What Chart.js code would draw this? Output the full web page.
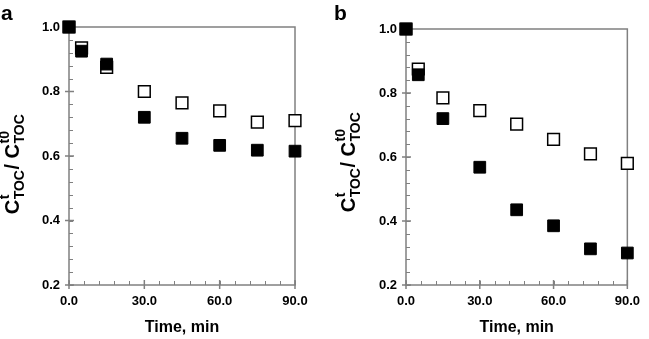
<!DOCTYPE html>
<html><head><meta charset="utf-8">
<script src="https://cdn.jsdelivr.net/npm/chart.js@4"></script>
<style>
html,body{margin:0;padding:0;background:#fff;}
#wrap{position:relative;width:649px;height:339px;}
.pc{position:absolute;top:0;height:339px;}
</style></head>
<body>
<div id="wrap">
<div class="pc" style="left:0;width:324px"><canvas id="ca"></canvas></div>
<div class="pc" style="left:324px;width:325px"><canvas id="cb"></canvas></div>
</div>
<script>
// ---- data ----
const times = [0, 5, 15, 30, 45, 60, 75, 90];
const aOpen   = [1.0, 0.935, 0.875, 0.800, 0.765, 0.740, 0.705, 0.710];
const aFilled = [1.0, 0.925, 0.885, 0.720, 0.655, 0.633, 0.618, 0.615];
const bOpen   = [1.0, 0.875, 0.785, 0.745, 0.703, 0.655, 0.610, 0.580];
const bFilled = [1.0, 0.857, 0.720, 0.568, 0.435, 0.385, 0.313, 0.300];
const xTicks = [0, 30, 60, 90];
const yTicks = [0.2, 0.4, 0.6, 0.8, 1.0];
const xLabel = 'Time, min';
const panelLabels = ['a', 'b'];

const FONT = '"Liberation Sans", Arial, sans-serif';
const AXIS = '#808080';

function pts(ys){ return times.map((t,i)=>({x:t, y:ys[i]})); }

function makeChart(id, openVals, filledVals, label, geo){
  const decor = {
    id:'decor',
    beforeDatasetsDraw(chart){
      const ctx = chart.ctx, a = chart.chartArea;
      const xs = chart.scales.x, ys = chart.scales.y;
      ctx.save();
      ctx.strokeStyle = AXIS; ctx.lineWidth = 1;
      ctx.beginPath();
      for (let v = 0; v <= 90.001; v += 6){
        const px = Math.round(xs.getPixelForValue(v))+0.5;
        ctx.moveTo(px, a.bottom); ctx.lineTo(px, a.bottom-4);
      }
      for (let v = 0.2; v <= 1.0001; v += 0.04){
        const py = Math.round(ys.getPixelForValue(v))+0.5;
        ctx.moveTo(a.left, py); ctx.lineTo(a.left+4, py);
      }
      ctx.stroke();
      ctx.lineWidth = 1.5;
      ctx.beginPath();
      xTicks.forEach(v=>{ const px = xs.getPixelForValue(v); ctx.moveTo(px, a.bottom+4); ctx.lineTo(px, a.bottom-5); });
      yTicks.forEach(v=>{ const py = ys.getPixelForValue(v); ctx.moveTo(a.left-4, py); ctx.lineTo(a.left+5, py); });
      ctx.stroke();
      ctx.strokeRect(a.left, a.top, a.right-a.left, a.bottom-a.top);
      ctx.restore();
    },
    afterDraw(chart){
      const ctx = chart.ctx, a = chart.chartArea;
      ctx.save();
      ctx.fillStyle = '#000';
      ctx.font = 'bold 16px ' + FONT;
      ctx.textAlign = 'center'; ctx.textBaseline = 'middle';
      ctx.fillText(xLabel, (a.left+a.right)/2, 328);
      ctx.font = 'bold 21px ' + FONT;
      ctx.textAlign = 'left'; ctx.textBaseline = 'alphabetic';
      ctx.fillText(label, geo.labX, 20);
      // y title with stacked sup/sub
      ctx.translate(geo.titleX, geo.titleY);
      ctx.rotate(-Math.PI/2);
      const big = 'bold 20px ' + FONT, small = 'bold 14px ' + FONT;
      const parts = [['C','t','TOC'],['/ C','t0','TOC']];
      let total = 0;
      const widths = parts.map(p=>{
        ctx.font = big; const w1 = ctx.measureText(p[0]).width;
        ctx.font = small; const w2 = Math.max(ctx.measureText(p[1]).width, ctx.measureText(p[2]).width);
        return [w1,w2];
      });
      widths.forEach(w=>{ total += w[0]+w[1]+1; });
      let x = -total/2;
      parts.forEach((p,i)=>{
        ctx.font = big; ctx.fillText(p[0], x, 7); x += widths[i][0];
        ctx.font = small; ctx.fillText(p[1], x+0.5, -3); ctx.fillText(p[2], x+0.5, 12);
        x += widths[i][1]+1;
      });
      ctx.restore();
    }
  };
  return new Chart(document.getElementById(id), {
    type:'scatter',
    data:{datasets:[
      {data:pts(openVals), pointStyle:'rect', pointRadius:8.3, pointBackgroundColor:'#fff', pointBorderColor:'#000', pointBorderWidth:1.5, clip:false, showLine:false, order:2},
      {data:pts(filledVals), pointStyle:'rect', pointRadius:8.3, pointBackgroundColor:'#000', pointBorderColor:'#000', pointBorderWidth:1, clip:false, showLine:false, order:1}
    ]},
    options:{
      responsive:true, maintainAspectRatio:false, animation:false,
      layout:{padding:{top:geo.top, right:geo.right, left:0, bottom:0}},
      plugins:{legend:{display:false}, tooltip:{enabled:false}},
      scales:{
        x:{type:'linear', min:0, max:90, border:{display:false},
           grid:{display:false, drawTicks:false},
           afterBuildTicks(s){ s.ticks = xTicks.map(v=>({value:v})); },
           afterFit(s){ s.height = 339 - geo.bottom; },
           ticks:{color:'#000', font:{family:FONT, weight:'bold', size:13}, padding:9, maxRotation:0,
                  callback:v=>Number(v).toFixed(1)}},
        y:{type:'linear', min:0.2, max:1.0, border:{display:false},
           grid:{display:false, drawTicks:false},
           afterBuildTicks(s){ s.ticks = yTicks.map(v=>({value:v})); },
           afterFit(s){ s.width = geo.left; },
           ticks:{color:'#000', font:{family:FONT, weight:'bold', size:13}, padding:9,
                  callback:v=>Number(v).toFixed(1)}}
      }
    },
    plugins:[decor]
  });
}

makeChart('ca', aOpen, aFilled, panelLabels[0], {left:69, right:29, top:27, bottom:285, labX:1, titleX:12, titleY:164});
makeChart('cb', bOpen, bFilled, panelLabels[1], {left:82, right:13, top:29, bottom:285, labX:10, titleX:24, titleY:162});
</script>
</body></html>
